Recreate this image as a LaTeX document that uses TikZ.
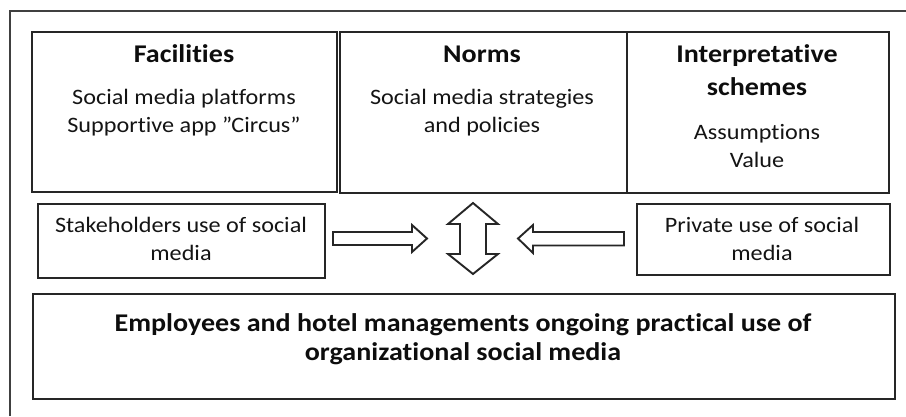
\documentclass[tikz,border=0pt]{standalone}
\usepackage{fontspec}
\setmainfont{Carlito}[FakeStretch=1.1,Ligatures=NoCommon]
\begin{document}
\begin{tikzpicture}[x=1pt,y=-1pt,
  box/.style={draw=black!85,line width=1.9pt,inner sep=0pt,anchor=north west},
  txt/.style={text=black!92,align=center,inner sep=0pt,font=\fontsize{22}{28}\selectfont},
  ttl/.style={text=black!95,align=center,inner sep=0pt,font=\fontsize{25.5}{33}\selectfont\bfseries},
  big/.style={text=black!95,align=center,inner sep=0pt,font=\fontsize{25.5}{28.5}\selectfont\bfseries},
  barrow/.style={draw=black!85,line width=1.9pt,fill=white,line join=miter}]
\useasboundingbox (0,0) rectangle (906,416);
% outer frame (right and bottom edges cut off)
\draw[black!75,line width=1.6pt] (10,416) -- (10,11) -- (906,11);
% top boxes
\node[box,minimum width=305pt,minimum height=160pt] (fac) at (31,31) {};
\node[box,minimum width=287pt,minimum height=161pt] (nor) at (339,31) {};
\node[box,minimum width=262pt,minimum height=161pt] (int) at (626,31) {};
\node[ttl] (facT) at (184,54) {Facilities};
\node[txt] (facB) at (184,113) {Social media platforms\\Supportive app ”Circus”};
\node[ttl] (norT) at (482,54) {Norms};
\node[txt] (norB) at (482,113) {Social media strategies\\and policies};
\node[ttl] (intT) at (757,70) {Interpretative\\schemes};
\node[txt] (intB) at (757,146) {Assumptions\\Value};
% middle boxes
\node[box,minimum width=287pt,minimum height=74pt] (stk) at (37,203) {};
\node[txt] (stkT) at (181,239) {Stakeholders use of social\\media};
\node[box,minimum width=253pt,minimum height=71pt] (prv) at (636,203) {};
\node[txt] (prvT) at (762,239) {Private use of social\\media};
% bottom box
\node[box,minimum width=862pt,minimum height=105pt] (emp) at (32,293) {};
\node[big] (empT) at (463,339) {Employees and hotel managements ongoing practical use of\\organizational social media};
% block arrows
\coordinate (ra) at (333,238.5);
\coordinate (la) at (624,238.5);
\coordinate (va) at (473,238.5);
\draw[barrow] (ra) ++(0,-6.5) -- ++(79,0) -- ++(0,-7) -- (427,238.5) -- (412,252) -- ++(0,-7) -- ++(-79,0) -- cycle;
\draw[barrow] (la) ++(0,-6.5) -- ++(-91,0) -- ++(0,-7) -- (518,238.5) -- (533,253) -- ++(0,-7.5) -- ++(91,0) -- cycle;
\draw[barrow] (473,203) -- (498,224) -- (486,224) -- (486,254) -- (498,254) -- (473,274) -- (448,254) -- (460,254) -- (460,224) -- (448,224) -- cycle;
\end{tikzpicture}
\end{document}
